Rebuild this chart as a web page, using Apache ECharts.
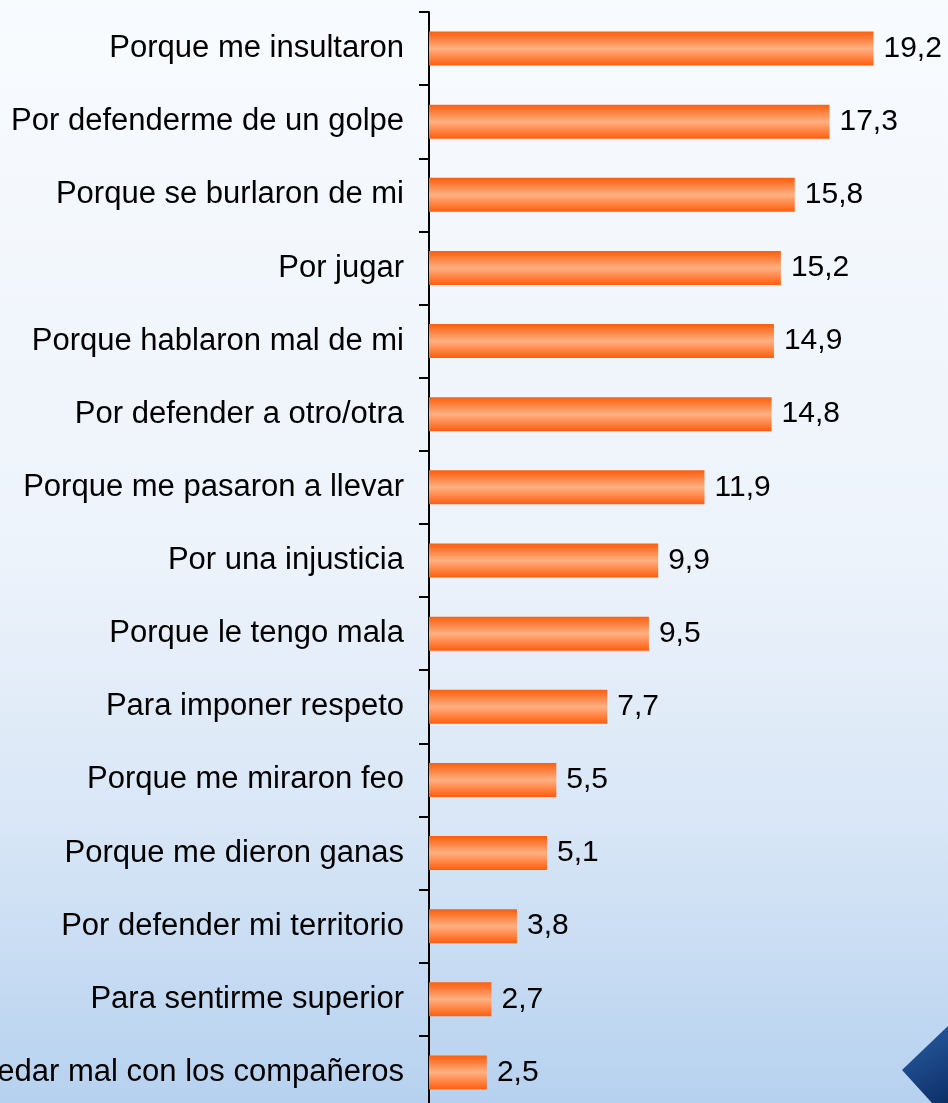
<!DOCTYPE html>
<html>
<head>
<meta charset="utf-8">
<script src="https://cdn.jsdelivr.net/npm/echarts@6/dist/echarts.min.js"></script>
<style>
html,body{margin:0;padding:0;width:948px;height:1103px;overflow:hidden;}
#chart{width:948px;height:1103px;}
</style>
</head>
<body>
<div id="chart"></div>
<script>
var categories = [
  "Porque me insultaron",
  "Por defenderme de un golpe",
  "Porque se burlaron de mi",
  "Por jugar",
  "Porque hablaron mal de mi",
  "Por defender a otro/otra",
  "Porque me pasaron a llevar",
  "Por una injusticia",
  "Porque le tengo mala",
  "Para imponer respeto",
  "Porque me miraron feo",
  "Porque me dieron ganas",
  "Por defender mi territorio",
  "Para sentirme superior",
  "Por quedar mal con los compañeros"
];
var values = [19.2, 17.3, 15.8, 15.2, 14.9, 14.8, 11.9, 9.9, 9.5, 7.7, 5.5, 5.1, 3.8, 2.7, 2.5];

var chart = echarts.init(document.getElementById('chart'));
chart.setOption({
  animation: false,
  backgroundColor: {
    type: 'linear', x: 0, y: 0, x2: 0, y2: 1,
    colorStops: [
      {offset: 0, color: '#f8fbfe'},
      {offset: 0.5, color: '#edf3fb'},
      {offset: 0.75, color: '#d8e6f6'},
      {offset: 1, color: '#b6d1ef'}
    ]
  },
  graphic: [
    {
      type: 'polygon',
      z: 0,
      shape: {points: [[902, 1070], [948, 1026], [948, 1103], [932, 1103]]},
      style: {
        fill: {
          type: 'linear', x: 0, y: 0, x2: 1, y2: 1,
          colorStops: [{offset: 0, color: '#2a5fa6'}, {offset: 1, color: '#0d2f66'}]
        }
      }
    }
  ],
  grid: {left: 429, top: 12, width: 463, height: 1097, containLabel: false, outerBoundsMode: 'none'},
  xAxis: {
    type: 'value', min: 0, max: 20, show: false
  },
  yAxis: {
    type: 'category',
    data: categories,
    inverse: true,
    axisLine: {show: true, lineStyle: {color: '#000', width: 2}},
    axisTick: {show: true, length: 10, lineStyle: {color: '#000', width: 2}},
    axisLabel: {
      margin: 25,
      fontFamily: 'Liberation Sans, Arial, sans-serif',
      fontSize: 31,
      color: '#000'
    },
    splitLine: {show: false}
  },
  series: [{
    type: 'bar',
    data: values,
    barWidth: 34,
    itemStyle: {
      color: {
        type: 'linear', x: 0, y: 0, x2: 0, y2: 1,
        colorStops: [
          {offset: 0, color: '#ff5d0c'},
          {offset: 0.5, color: '#ffb083'},
          {offset: 1, color: '#ff5d0c'}
        ]
      }
    },
    label: {
      show: true,
      position: 'right',
      distance: 10,
      fontFamily: 'Liberation Sans, Arial, sans-serif',
      fontSize: 30,
      color: '#000',
      formatter: function (p) { return p.value.toFixed(1).replace('.', ','); }
    }
  }]
});
</script>
</body>
</html>
